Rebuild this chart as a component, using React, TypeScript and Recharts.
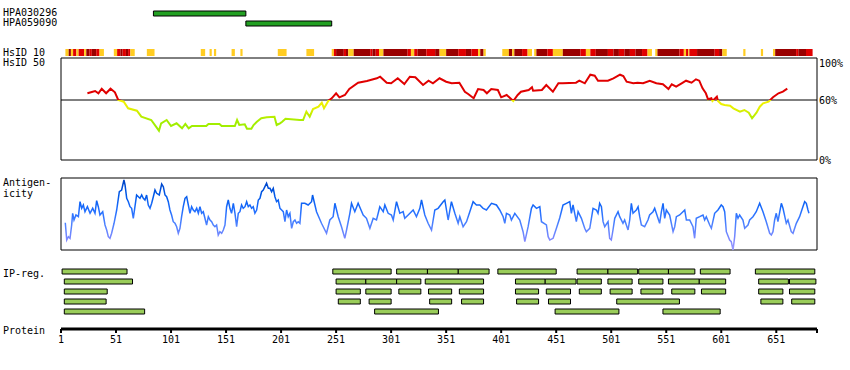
import React from 'react';
import {
  BarChart, Bar, Cell, LineChart, Line, XAxis, YAxis, ReferenceLine, ReferenceArea,
} from 'recharts';

// protein length and shared horizontal layout
const SEQ_LEN = 688;
const W = 850;
const MARGIN_X = { left: 61, right: 33 };
const MONO = '"DejaVu Sans Mono", monospace';

const antibodyNames = ['HPA030296', 'HPA059090'];
const antibodyRanges: [number, number][] = [[85, 169], [169, 247]];

// HsID 10 strip: [start, end, level] level 1 = yellow, 2 = red, 3 = dark red
const hsid10Colors = ['', '#ffcc22', '#e00000', '#990000'];
const hsid10: [number, number, number][] = [
  [5, 8, 1], [8, 10, 3], [10, 12, 1], [12, 15, 2], [15, 17, 1], [17, 22, 2], [22, 24, 1],
  [24, 27, 3], [27, 29, 2], [29, 33, 3], [33, 36, 2], [36, 40, 1],
  [49, 52, 1], [52, 55, 2], [55, 57, 3], [57, 60, 2], [60, 62, 3], [62, 64, 2], [64, 68, 1],
  [79, 86, 1], [128, 132, 1], [136, 138, 1], [140, 142, 1], [156, 159, 1], [164, 166, 1],
  [198, 206, 1], [224, 231, 1],
  [247, 249, 1], [249, 251, 2], [251, 258, 3], [258, 260, 2], [260, 262, 3], [262, 267, 1],
  [267, 282, 3], [282, 284, 2], [284, 287, 3], [287, 290, 2], [290, 294, 1], [294, 316, 3],
  [316, 319, 2], [319, 322, 1], [322, 325, 2], [325, 333, 3], [333, 341, 2], [341, 345, 3],
  [345, 351, 1], [351, 362, 3], [362, 369, 2], [369, 374, 3], [374, 380, 2], [380, 382, 1],
  [382, 385, 3], [385, 387, 1],
  [402, 408, 1], [408, 411, 3], [411, 413, 1], [413, 420, 3], [420, 425, 2], [425, 429, 1],
  [431, 433, 1], [433, 443, 3], [443, 448, 2], [448, 457, 1], [457, 473, 3], [473, 478, 2],
  [478, 482, 1], [482, 487, 2], [487, 498, 3], [498, 503, 2], [503, 508, 3], [508, 513, 2],
  [513, 518, 3], [518, 523, 2], [523, 529, 3], [529, 534, 2], [534, 538, 1],
  [541, 543, 1], [543, 563, 3], [563, 567, 2], [567, 569, 1], [569, 571, 2], [571, 572, 1],
  [572, 579, 2], [579, 595, 3], [595, 599, 2], [599, 602, 3], [602, 606, 1],
  [621, 623, 1], [637, 639, 1],
  [648, 650, 1], [650, 669, 3], [669, 671, 2], [671, 678, 3], [678, 684, 2],
];

// HsID 50 identity (%), [residue, value]
const hsid50: [number, number][] = [
  [25, 66.7], [29, 68], [32, 69], [35, 66.7], [38, 71.3], [42, 66.7], [46, 71.3], [50, 67.7],
  [53, 60], [58, 58.3], [62, 51.7], [70, 49.3], [74, 43.3], [83, 40], [90, 29.3], [92, 36.7],
  [97, 40], [101, 34], [106, 36.7], [111, 31.7], [114, 36], [117, 31.7], [120, 34], [133, 34],
  [135, 36], [145, 36], [147, 34], [159, 34], [161, 40], [163, 35], [168, 35.7], [170, 31.3],
  [174, 31.3], [176, 35], [179, 38.3], [183, 41.7], [188, 42.7], [195, 43.3], [197, 35],
  [200, 36.7], [202, 38.3], [205, 41.3], [218, 40], [221, 40], [224, 48.3], [227, 43.3],
  [230, 51], [235, 53.3], [238, 57.3], [240, 51.7], [244, 59.3], [247, 61.7], [251, 66.7],
  [254, 62.7], [259, 65], [263, 71], [271, 77.3], [279, 79], [288, 81.7], [291, 83.3],
  [297, 77.3], [301, 76.7], [307, 81.7], [313, 76], [318, 83.3], [323, 82.7], [330, 75],
  [335, 79.3], [339, 76.7], [345, 81.7], [351, 78.3], [356, 76.7], [363, 77.3], [368, 68.3],
  [371, 66], [376, 61.7], [380, 71], [385, 70], [388, 66.7], [392, 71], [398, 70], [401, 62.7],
  [406, 65], [412, 59], [416, 65], [419, 68.3], [426, 70], [429, 72.7], [430, 69.3], [438, 70],
  [442, 75], [448, 68.3], [453, 76.7], [457, 76.7], [469, 77.3], [472, 79.3], [477, 76.7],
  [482, 85.3], [486, 84.3], [489, 79.3], [498, 79.3], [503, 81.7], [509, 85.3], [512, 84],
  [515, 78.3], [521, 76.7], [525, 77.3], [530, 76.7], [536, 79.3], [542, 76.7], [548, 75.7],
  [553, 71], [556, 75.7], [560, 73.3], [565, 76.7], [569, 79.3], [574, 77.3], [578, 80.7],
  [581, 79.3], [584, 71.7], [587, 66.7], [589, 60.7], [592, 61.7], [593, 59], [597, 63.3],
  [598, 59], [601, 56], [604, 55], [609, 54.3], [612, 51.7], [618, 48.3], [622, 50],
  [626, 47.3], [629, 41.7], [633, 47.3], [636, 53.3], [639, 56.7], [644, 58.3], [648, 62.7],
  [653, 66.7], [657, 68.3], [661, 71.3],
];
const hsid50Ticks = [0, 60, 100];

// antigenicity score (0 = box bottom, 72 = box top), [residue, value]
const antigenicity: [number, number][] = [
  [4.9, 27.3], [6.2, 10], [7.7, 13.3], [9.2, 11.7], [10.7, 25], [11.6, 36.7], [12.8, 30],
  [14.6, 35], [16.8, 33.3], [18.3, 48.3], [19.8, 41.7], [21.3, 45], [22.8, 38.3], [25, 43.3],
  [27.4, 36.7], [29.8, 41.7], [31.9, 36.7], [33.4, 49.3], [34.9, 43.3], [36.4, 35], [38.9, 38.3],
  [41, 25], [42.5, 20], [44, 13.3], [45.5, 11.7], [47, 16.7], [49.2, 26.7], [51.6, 40],
  [54, 58.3], [56.1, 60], [58.2, 70], [59.2, 65], [60.7, 51.7], [62.2, 48.3], [63.7, 43.3],
  [65.2, 41.7], [66.7, 31.7], [68.2, 43.3], [69.7, 55], [71.3, 53.3], [72.8, 51.7], [74.3, 55],
  [75.8, 51.7], [77.3, 50], [78.8, 55], [80.3, 45], [81.9, 41.7], [83.4, 46.7], [84.9, 53.3],
  [86.4, 60], [87.9, 56.7], [90.3, 55], [92.5, 66], [94, 63.3], [95.5, 55], [97, 53.3],
  [98.5, 48.3], [100, 40], [101.5, 35], [103, 28.3], [104.6, 26.7], [106.1, 23.3], [107.6, 16.7],
  [109.1, 21.7], [110.6, 33.3], [112.1, 43.3], [113.7, 51.7], [115.2, 53.3], [116.7, 45],
  [118.2, 36.7], [119.7, 43.3], [121.2, 40], [122.7, 38.3], [124.3, 41.7], [125.8, 36.7],
  [127.3, 43.3], [128.8, 36.7], [130.3, 38.3], [131.8, 31.7], [133.3, 25], [134.9, 33.3],
  [136.4, 30], [137.9, 28.3], [139.4, 25], [140.9, 23.3], [142.4, 25], [143.9, 15], [145.4, 18.3],
  [147, 16.7], [148.5, 20], [150, 25], [151.5, 43.3], [153, 50], [154.5, 41.7], [156, 36.7],
  [157.6, 46.7], [159.1, 36.7], [160.6, 23.3], [162.1, 36.7], [163.6, 38.3], [165.1, 45],
  [166.6, 41.7], [168.2, 43.3], [169.7, 48.3], [171.2, 43.3], [172.7, 45], [174.2, 41.7],
  [175.7, 43.3], [177.2, 36.7], [178.8, 40], [180.3, 50], [181.8, 51.7], [183.3, 58.3],
  [184.8, 60], [186.3, 63.3], [187.8, 66.7], [189.4, 61.7], [190.9, 61.7], [192.4, 58.3],
  [193.9, 61.7], [195.4, 53.3], [196.9, 48.3], [198.4, 50], [200, 41.7], [201.5, 40],
  [203, 38.3], [204.5, 28.3], [206, 40], [207.5, 33.3], [209, 36.7], [210.6, 21.7], [212.1, 28.3],
  [213.6, 30], [215.1, 26.7], [216.6, 28.3], [218.1, 26.7], [219.6, 46.7], [222.6, 46.7],
  [225.6, 45], [228.7, 48.3], [229.6, 55], [233.2, 38.3], [237.7, 26.7], [242.3, 16.7],
  [245.3, 30], [248.3, 33.3], [249.9, 46.7], [252.9, 33.3], [255.9, 23.3], [258.9, 11.7],
  [260.5, 20], [263.5, 36.7], [265, 46.7], [268, 38.3], [271, 46.7], [275.6, 35], [278.6, 31.7],
  [281.7, 21.7], [284.7, 31.7], [287.7, 30], [290.7, 43.3], [293.8, 38.3], [295.3, 45],
  [298.3, 36.7], [301.3, 35], [302.9, 30], [305.9, 48.3], [308.9, 36.7], [311.9, 38.3],
  [313.4, 31.7], [316.5, 35], [321, 40], [324, 33.3], [327.1, 41.7], [328.6, 50], [331.6, 35],
  [334.6, 26.7], [337.7, 20], [340.7, 40], [343.7, 41.7], [348.3, 48.3], [349.8, 50],
  [352.8, 30], [355.8, 48.3], [358.9, 36.7], [361.9, 26.7], [363.4, 33.3], [366.4, 23.3],
  [369.5, 28.3], [372.5, 38.3], [375.5, 48.3], [378.5, 45], [381.6, 45], [384.6, 41.7],
  [387.6, 40], [392.2, 46.7], [396.7, 45], [399.7, 40], [402.8, 33.3], [404.3, 26.7],
  [405.8, 36.7], [408.8, 35], [410.3, 30], [413.4, 36.7], [417.9, 30], [420.9, 18.3],
  [422.5, 8.3], [425.5, 23.3], [428.5, 41.7], [430, 45], [433.1, 41.7], [436.1, 43.3],
  [437.6, 28.3], [442.1, 25], [443.7, 13.3], [445.2, 10], [448.2, 11.7], [451.2, 21.7],
  [454.2, 32], [457.2, 45], [460.3, 46.7], [463.3, 48.3], [464.8, 36.7], [466.3, 45],
  [469.3, 28.3], [470.9, 38.3], [473.9, 31.7], [476.9, 21.7], [478.4, 18.3], [481.5, 21.7],
  [484.5, 41.7], [487.5, 40], [489, 36.7], [490.5, 46.7], [492.1, 43.3], [493.6, 28.3],
  [495.1, 23.3], [498.1, 28.3], [499.6, 11.7], [501.1, 10], [502.6, 20], [504.2, 31.7],
  [507.2, 38.3], [508.7, 33.3], [511.7, 26.7], [513.2, 30], [516.3, 20], [517.8, 30],
  [519.3, 46.7], [520.8, 36.7], [523.8, 40], [525.4, 43.3], [526.9, 33.3], [528.4, 25],
  [531.4, 23.3], [534.4, 30], [535.9, 35], [539, 38.3], [540.5, 41.7], [542, 36.7], [545, 26.7],
  [546.6, 38.3], [548.1, 46.7], [549.6, 31.7], [551.1, 40], [554.1, 35], [557.2, 18.3],
  [558.7, 23.3], [560.2, 33.3], [563.2, 35], [566.2, 38.3], [567.8, 40], [569.3, 30],
  [572.3, 30], [575.3, 23.3], [576.8, 11.7], [578.3, 31.7], [581.4, 33.3], [584.4, 35],
  [585.9, 30], [587.4, 33.3], [590.5, 25], [592, 21.7], [595, 36.7], [598, 40], [601, 45],
  [602.6, 43.3], [604.1, 38.3], [605.6, 18.3], [608.6, 10], [610.1, 8.3], [611.7, 0],
  [613.2, 13.3], [614.7, 36.7], [616.2, 31.7], [617.7, 35], [620.7, 30], [622.3, 21.7],
  [625.3, 25], [626.8, 30], [629.8, 33.3], [632.8, 38.3], [635.9, 46.7], [638.9, 38.3],
  [641.9, 28.3], [645, 16.7], [646.5, 15], [648, 18.3], [649.5, 30], [651, 36.7], [652.5, 28.3],
  [655.6, 46.7], [657.1, 41.7], [660.1, 26.7], [661.6, 30], [664.6, 18.3], [666.2, 16.7],
  [669.2, 26.7], [672.2, 33.3], [675.2, 43.3], [676.8, 48.3], [678.3, 46.7], [679.8, 40],
  [680.7, 36.7],
];

// IP regions, one list per row
const ipRow1: [number, number][] = [
  [2, 61], [248, 301], [306, 334], [334, 362], [362, 390], [398, 451], [470, 498], [498, 525],
  [526, 553], [553, 577], [582, 609], [632, 686],
];
const ipRow2: [number, number][] = [
  [4, 66], [251, 278], [278, 306], [306, 328], [332, 385], [414, 441], [441, 469], [470, 492],
  [498, 520], [526, 548], [553, 581], [581, 605], [635, 662], [663, 687],
];
const ipRow3: [number, number][] = [
  [4, 43], [251, 273], [278, 301], [308, 328], [335, 356], [363, 385], [414, 435], [442, 464],
  [472, 492], [500, 520], [528, 548], [556, 577], [583, 605], [635, 657], [663, 686],
];
const ipRow4: [number, number][] = [
  [4, 42], [253, 273], [281, 301], [336, 356], [365, 385], [415, 435], [444, 464], [506, 563],
  [637, 657], [665, 686],
];
const ipRow5: [number, number][] = [[4, 77], [286, 344], [450, 508], [548, 600]];
const ipRows = [ipRow1, ipRow2, ipRow3, ipRow4, ipRow5];

const proteinTicks = [1, 51, 101, 151, 201, 251, 301, 351, 401, 451, 501, 551, 601, 651, 688];

const abData = antibodyRanges.map((r, i) => ({ row: i + 1, range: r }));
const hsid10Data = hsid10.map(([s, e, lvl]) => ({ row: 1, range: [s, e], lvl }));
const hsid50Data = hsid50.map(([res, v]) => ({ res, v }));
const antiData = antigenicity.map(([res, v]) => ({ res, v }));
const ipData = ipRows.flatMap((row, i) => row.map((r) => ({ row: i + 1, range: r })));

const labels: { text: string; top: number }[] = [
  { text: antibodyNames[0], top: 7.5 },
  { text: antibodyNames[1], top: 17.5 },
  { text: 'HsID 10', top: 47.5 },
  { text: 'HsID 50', top: 57.5 },
  { text: 'Antigen-', top: 178 },
  { text: 'icity', top: 188.5 },
  { text: 'IP-reg.', top: 269 },
  { text: 'Protein', top: 325.5 },
];

const seqAxis = (
  <XAxis type="number" dataKey="res" domain={[1, SEQ_LEN]} allowDataOverflow hide />
);

const at = (top: number): React.CSSProperties => ({ position: 'absolute', left: 0, top });

// right-hand percent labels, nudged a little like the original
const PercentTick = (props: any) => {
  const { x, y, payload } = props;
  const shift = payload.value === 100 ? 3 : 0;
  return (
    <text x={x} y={y + shift} dy="0.355em" textAnchor="start" fontSize={10} fill="#000" fontFamily={MONO}>
      {`${payload.value}%`}
    </text>
  );
};

export default function App() {
  return (
    <div style={{ position: 'absolute', left: 0, top: 0, width: W, height: 370, background: '#fff', fontFamily: MONO }}>
      {labels.map((l) => (
        <div key={l.text} style={{ position: 'absolute', left: 3, top: l.top, fontSize: 10, lineHeight: '10px', whiteSpace: 'pre', color: '#000' }}>
          {l.text}
        </div>
      ))}

      {/* antibody regions */}
      <div style={at(0.5)}>
        <BarChart layout="vertical" width={W} height={34} data={abData} margin={{ top: 7, bottom: 7, ...MARGIN_X }}>
          <XAxis type="number" domain={[1, SEQ_LEN]} allowDataOverflow hide />
          <YAxis type="number" dataKey="row" domain={[0.5, 2.5]} ticks={[1, 2]} hide />
          <Bar dataKey="range" barSize={5} fill="#22a022" stroke="#000" strokeWidth={1} isAnimationActive={false} />
        </BarChart>
      </div>

      {/* HsID 10 strip */}
      <div style={at(40)}>
        <BarChart layout="vertical" width={W} height={24} data={hsid10Data} margin={{ top: 2, bottom: 2, ...MARGIN_X }}>
          <XAxis type="number" domain={[1, SEQ_LEN]} allowDataOverflow hide />
          <YAxis type="number" dataKey="row" domain={[0, 2]} ticks={[0, 1, 2]} hide />
          <Bar dataKey="range" barSize={7} isAnimationActive={false}>
            {hsid10Data.map((d, i) => (
              <Cell key={i} fill={hsid10Colors[d.lvl]} />
            ))}
          </Bar>
        </BarChart>
      </div>

      {/* HsID 50 identity */}
      <div style={at(50)}>
        <LineChart width={W} height={120} data={hsid50Data} margin={{ top: 8, bottom: 10, left: 61, right: 0 }}>
          <defs>
            <linearGradient id="hsidGrad" gradientUnits="userSpaceOnUse" x1="0" y1="8" x2="0" y2="110">
              <stop offset="0.407" stopColor="#e00000" />
              <stop offset="0.417" stopColor="#f2f200" />
              <stop offset="0.49" stopColor="#e6f000" />
              <stop offset="0.56" stopColor="#c0ee00" />
              <stop offset="0.63" stopColor="#a2ee00" />
              <stop offset="1" stopColor="#99ee00" />
            </linearGradient>
          </defs>
          {seqAxis}
          <YAxis
            orientation="right"
            width={33}
            domain={[0, 102]}
            ticks={hsid50Ticks}
            axisLine={false}
            tickLine={false}
            tickSize={0}
            tickMargin={2}
            tick={<PercentTick />}
          />
          <ReferenceArea x1={1} x2={SEQ_LEN} y1={0} y2={102} fill="none" stroke="#000" strokeWidth={1} />
          <ReferenceLine y={60} stroke="#000" strokeWidth={1} />
          <Line dataKey="v" stroke="url(#hsidGrad)" strokeWidth={2} dot={false} type="linear" isAnimationActive={false} />
        </LineChart>
      </div>

      {/* antigenicity */}
      <div style={at(170)}>
        <LineChart width={W} height={90} data={antiData} margin={{ top: 8, bottom: 10, ...MARGIN_X }}>
          <defs>
            <linearGradient id="antiGrad" gradientUnits="userSpaceOnUse" x1="0" y1="8" x2="0" y2="80">
              <stop offset="0" stopColor="#0040c0" />
              <stop offset="0.236" stopColor="#0058e8" />
              <stop offset="0.444" stopColor="#1f6eff" />
              <stop offset="0.653" stopColor="#4f82ff" />
              <stop offset="0.861" stopColor="#8088ff" />
              <stop offset="1" stopColor="#9c9cff" />
            </linearGradient>
          </defs>
          {seqAxis}
          <YAxis domain={[0, 72]} hide />
          <ReferenceArea x1={1} x2={SEQ_LEN} y1={0} y2={72} fill="none" stroke="#000" strokeWidth={1} />
          <Line dataKey="v" stroke="url(#antiGrad)" strokeWidth={1.5} dot={false} type="linear" isAnimationActive={false} />
        </LineChart>
      </div>

      {/* IP regions + protein axis */}
      <div style={at(260)}>
        <BarChart layout="vertical" width={W} height={100} data={ipData} margin={{ top: 7, bottom: 0, ...MARGIN_X }}>
          <XAxis
            type="number"
            domain={[1, SEQ_LEN]}
            allowDataOverflow
            ticks={proteinTicks}
            interval={0}
            tickFormatter={(v) => (v === SEQ_LEN ? '' : String(v))}
            height={31}
            axisLine={{ stroke: '#000', strokeWidth: 3 }}
            tickLine={{ stroke: '#000', strokeWidth: 2 }}
            tickSize={4}
            tickMargin={3}
            tick={{ fontSize: 10, fill: '#000', fontFamily: MONO }}
          />
          <YAxis type="number" dataKey="row" domain={[0.5, 6.7]} ticks={[1, 2, 3, 4, 5, 6]} hide />
          <Bar dataKey="range" barSize={5} fill="#9acd5a" stroke="#000" strokeWidth={1} isAnimationActive={false} />
        </BarChart>
      </div>
    </div>
  );
}
